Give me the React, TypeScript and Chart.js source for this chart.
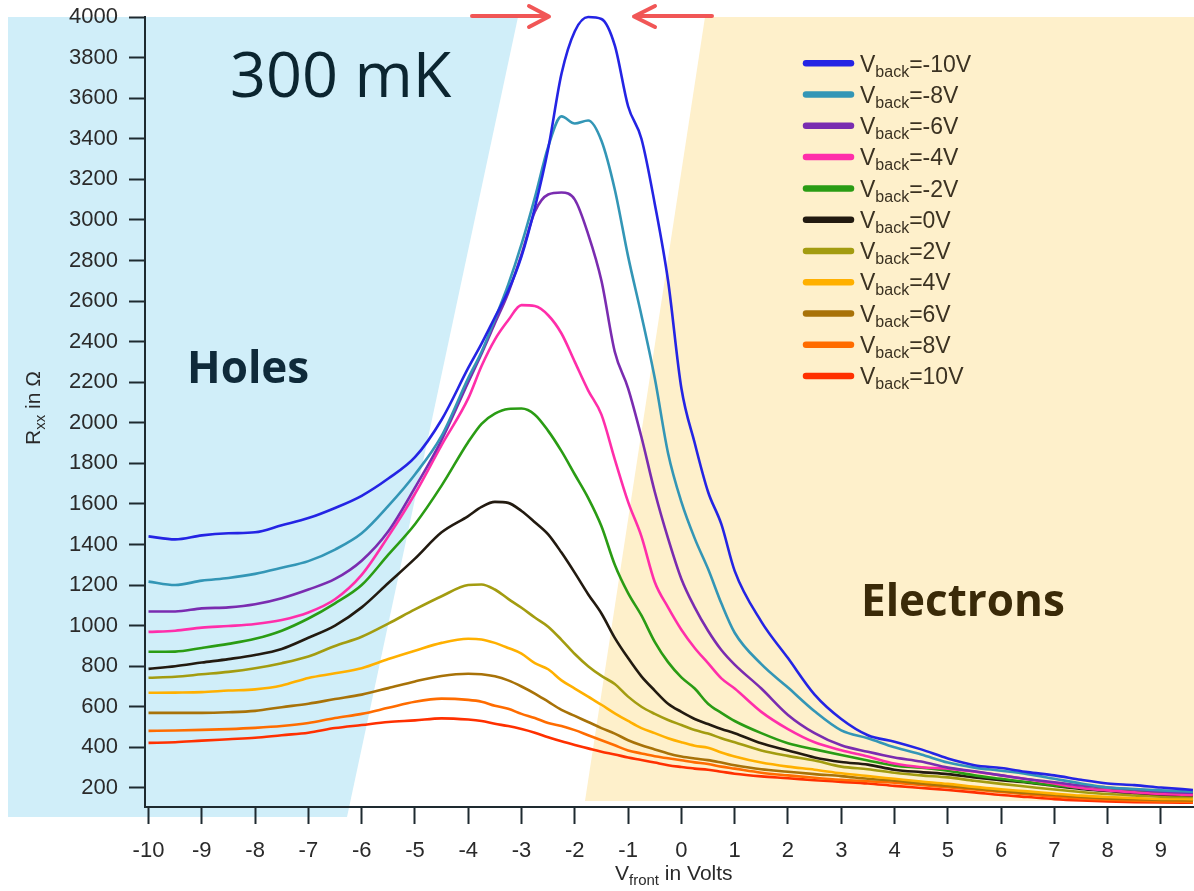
import React, { useEffect, useRef } from 'react';
import { Chart, registerables } from 'chart.js';

Chart.register(...registerables);

// Front-gate voltage grid (V)
const vFront = [
  -10, -9.5, -9, -8.5, -8, -7.5, -7, -6.5, -6, -5.5, -5, -4.5, -4,
  -3.75, -3.5, -3.25, -3, -2.75, -2.5, -2.25, -2, -1.75, -1.5, -1.25, -1, -0.75, -0.5, -0.25, 0, 0.25, 0.5, 0.75, 1,
  1.5, 2, 2.5, 3, 3.5, 4, 4.5, 5, 5.5, 6, 6.5, 7, 7.5, 8, 8.5, 9,
  9.6,
];

// R_xx (Ohm) for each back-gate voltage
const rxxBackM10 = [
  1440, 1425, 1445, 1455, 1460, 1495, 1530, 1580, 1640, 1725, 1830, 2015, 2270,
  2390, 2520, 2650, 2820, 3060, 3350, 3720, 3930, 4000, 3990, 3860, 3560, 3400, 3080, 2700, 2170, 1900, 1660, 1500, 1270,
  1020, 840, 660, 540, 460, 428, 390, 345, 312, 298, 278, 262, 240, 222, 214, 202,
  190,
];
const rxxBackM8 = [
  1217, 1200, 1222, 1235, 1255, 1285, 1318, 1375, 1455, 1590, 1745, 1935, 2220,
  2350, 2510, 2680, 2880, 3110, 3360, 3510, 3475, 3490, 3390, 3150, 2820, 2530, 2220, 1850, 1610, 1430, 1280, 1110, 965,
  810, 695, 578, 484, 445, 400, 365, 325, 300, 285, 268, 245, 222, 202, 195, 188,
  181,
];
const rxxBackM6 = [
  1070, 1070, 1085, 1090, 1105, 1135, 1178, 1230, 1320, 1465, 1680, 1915, 2200,
  2340, 2490, 2640, 2830, 3040, 3125, 3135, 3100, 2930, 2700, 2350, 2170, 1930, 1660, 1430, 1230, 1090, 975, 880, 808,
  690, 560, 470, 410, 378, 350, 330, 300, 282, 262, 243, 228, 212, 202, 192, 183,
  176,
];
const rxxBackM4 = [
  969, 975, 990, 998, 1008, 1028, 1065, 1130, 1250, 1440, 1650, 1890, 2120,
  2280, 2410, 2505, 2580, 2575, 2530, 2440, 2300, 2160, 2040, 1820, 1610, 1440, 1215, 1090, 980, 890, 815, 740, 690,
  575, 490, 425, 386, 355, 320, 302, 295, 280, 262, 243, 222, 200, 188, 178, 170,
  166,
];
const rxxBackM2 = [
  871, 872, 890, 910, 935, 975, 1035, 1110, 1200, 1350, 1500, 1690, 1905,
  1995, 2045, 2068, 2070, 2040, 1960, 1860, 1745, 1630, 1490, 1300, 1160, 1050, 920, 820, 745, 690, 615, 570, 530,
  470, 420, 390, 362, 335, 310, 300, 285, 262, 245, 228, 212, 200, 190, 182, 175,
  171,
];
const rxxBack0 = [
  787, 800, 818, 835, 855, 885, 940, 1000, 1090, 1210, 1330, 1460, 1540,
  1585, 1610, 1605, 1565, 1510, 1450, 1360, 1260, 1155, 1060, 940, 840, 750, 680, 615, 575, 540, 515, 490, 470,
  420, 385, 350, 328, 315, 290, 278, 268, 252, 238, 226, 210, 195, 185, 175, 168,
  164,
];
const rxxBackP2 = [
  743, 748, 760, 772, 790, 815, 848, 900, 945, 1010, 1080, 1145, 1200,
  1203, 1178, 1132, 1088, 1040, 995, 930, 860, 800, 752, 712, 650, 600, 565, 535, 510, 485, 468, 445, 425,
  385, 358, 335, 305, 292, 275, 262, 252, 235, 220, 206, 192, 180, 170, 163, 157,
  155,
];
const rxxBackP4 = [
  669, 670, 672, 680, 686, 705, 742, 765, 790, 835, 876, 915, 935,
  932, 915, 890, 862, 815, 785, 730, 690, 650, 610, 568, 530, 495, 470, 445, 425, 408, 398, 375, 355,
  325, 305, 290, 272, 258, 245, 232, 220, 205, 193, 183, 172, 162, 155, 150, 146,
  145,
];
const rxxBackP6 = [
  570, 570, 570, 573, 580, 598, 615, 638, 660, 692, 725, 752, 763,
  760, 750, 730, 700, 665, 625, 585, 555, 525, 495, 468, 435, 410, 390, 370, 355, 345, 337, 325, 312,
  292, 280, 268, 258, 245, 235, 222, 210, 198, 185, 175, 165, 155, 148, 144, 141,
  138,
];
const rxxBackP8 = [
  481, 483, 486, 490, 496, 505, 520, 545, 565, 595, 625, 640, 634,
  625, 605, 590, 565, 545, 520, 505, 485, 460, 435, 410, 385, 370, 356, 346, 336, 326, 318, 305, 295,
  275, 262, 250, 240, 233, 226, 215, 203, 192, 180, 168, 157, 148, 142, 137, 133,
  131,
];
const rxxBackP10 = [
  422, 425, 433, 440, 447, 460, 472, 495, 510, 525, 533, 543, 537,
  530, 516, 505, 490, 472, 450, 430, 412, 395, 378, 365, 350, 338, 325, 312, 303, 295, 290, 280, 270,
  257, 248, 238, 230, 222, 210, 200, 190, 178, 165, 155, 145, 138, 133, 130, 128,
  127,
];

const backVoltages = [-10, -8, -6, -4, -2, 0, 2, 4, 6, 8, 10];
const seriesColors = [
  '#2424e4', '#3396b6', '#7a2cb0', '#ff2eaa', '#2a9c14', '#221a10',
  '#a39c10', '#ffb000', '#a87208', '#ff6c00', '#ff3000',
];

const xTickValues = [-10, -9, -8, -7, -6, -5, -4, -3, -2, -1, 0, 1, 2, 3, 4, 5, 6, 7, 8, 9];
const yTickValues = [200, 400, 600, 800, 1000, 1200, 1400, 1600, 1800, 2000, 2200, 2400, 2600, 2800, 3000, 3200, 3400, 3600, 3800, 4000];

const W = 1194;
const H = 891;
const SANS = "'Liberation Sans', Arial, Helvetica, sans-serif";

type Part = { t: string; size: number; dy: number };

function drawRich(ctx: CanvasRenderingContext2D, parts: Part[], x: number, y: number) {
  let cx = x;
  for (const p of parts) {
    ctx.font = `${p.size}px ${SANS}`;
    ctx.fillText(p.t, cx, y + p.dy);
    cx += ctx.measureText(p.t).width;
  }
}

function richWidth(ctx: CanvasRenderingContext2D, parts: Part[]) {
  let w = 0;
  for (const p of parts) {
    ctx.font = `${p.size}px ${SANS}`;
    w += ctx.measureText(p.t).width;
  }
  return w;
}

export default function App() {
  const ref = useRef<HTMLCanvasElement>(null);

  useEffect(() => {
    const canvas = ref.current;
    if (!canvas) return;
    const series = [
      rxxBackM10, rxxBackM8, rxxBackM6, rxxBackM4, rxxBackM2, rxxBack0,
      rxxBackP2, rxxBackP4, rxxBackP6, rxxBackP8, rxxBackP10,
    ];
    const datasets = series.map((vals, i) => ({
      label: `Vback=${backVoltages[i]}V`,
      data: vFront.map((x, j) => ({ x, y: vals[j] })),
      borderColor: seriesColors[i],
      backgroundColor: seriesColors[i],
      borderWidth: 2.6,
      pointRadius: 0,
      cubicInterpolationMode: 'monotone' as const,
      fill: false,
      clip: 3,
    }));

    const decor = {
      id: 'decor',
      beforeDraw(chart: any) {
        const c: CanvasRenderingContext2D = chart.ctx;
        c.save();
        c.fillStyle = '#ffffff';
        c.fillRect(0, 0, W, H);
        c.fillStyle = '#d0eef9';
        c.beginPath();
        c.moveTo(8, 17); c.lineTo(518, 17); c.lineTo(347, 817); c.lineTo(8, 817);
        c.closePath(); c.fill();
        c.fillStyle = '#fef0cb';
        c.beginPath();
        c.moveTo(705, 17); c.lineTo(W, 17); c.lineTo(W, 801); c.lineTo(585, 801);
        c.closePath(); c.fill();
        c.restore();
      },
      afterDraw(chart: any) {
        const c: CanvasRenderingContext2D = chart.ctx;
        c.save();
        c.textBaseline = 'alphabetic';
        c.textAlign = 'left';
        // big annotations
        c.fillStyle = '#0b2530';
        c.font = "63px 'Open Sans', sans-serif";
        c.fillText('300 mK', 230, 97);
        c.fillStyle = '#0f2a3a';
        c.font = "bold 44px 'Open Sans', sans-serif";
        c.fillText('Holes', 187, 383);
        c.fillStyle = '#3a2a08';
        c.fillText('Electrons', 861, 616);

        // arrows
        c.strokeStyle = 'rgba(240,72,72,0.92)';
        c.lineWidth = 4;
        c.lineCap = 'round';
        c.lineJoin = 'round';
        c.beginPath();
        c.moveTo(472, 16); c.lineTo(548, 16);
        c.moveTo(529, 6); c.lineTo(549, 16.5); c.lineTo(529, 27);
        c.moveTo(712, 16); c.lineTo(635, 16);
        c.moveTo(655, 6); c.lineTo(634, 16.5); c.lineTo(655, 27);
        c.stroke();

        // legend
        const y0 = 63.3;
        const dy = 31.27;
        backVoltages.forEach((v, i) => {
          const y = y0 + i * dy;
          c.strokeStyle = seriesColors[i];
          c.lineWidth = 6.5;
          c.lineCap = 'round';
          c.beginPath();
          c.moveTo(806, y); c.lineTo(851, y);
          c.stroke();
          c.fillStyle = '#3b3222';
          drawRich(c, [
            { t: 'V', size: 23, dy: 0 },
            { t: 'back', size: 16, dy: 5 },
            { t: `=${v}V`, size: 23, dy: 0 },
          ], 860, y + 8.3);
        });

        // axis titles
        c.fillStyle = '#2a2a2a';
        drawRich(c, [
          { t: 'V', size: 21, dy: 0 },
          { t: 'front', size: 15, dy: 5 },
          { t: ' in Volts', size: 21, dy: 0 },
        ], 615, 880);

        const yParts: Part[] = [
          { t: 'R', size: 21, dy: 0 },
          { t: 'xx', size: 15, dy: 5 },
          { t: ' in Ω', size: 21, dy: 0 },
        ];
        const yw = richWidth(c, yParts);
        c.translate(40, 408);
        c.rotate(-Math.PI / 2);
        drawRich(c, yParts, -yw / 2, 0);
        c.restore();
      },
    };

    const axisColor = '#1e2a30';
    const chart = new Chart(canvas, {
      type: 'line',
      data: { datasets: datasets as any },
      options: {
        animation: false,
        responsive: false,
        devicePixelRatio: 1,
        layout: { padding: { top: 17, left: 0, right: 0, bottom: 0 } },
        plugins: { legend: { display: false }, tooltip: { enabled: false } },
        scales: {
          x: {
            type: 'linear',
            min: -10.066,
            max: 9.62,
            afterBuildTicks: (s: any) => { s.ticks = xTickValues.map((v) => ({ value: v })); },
            afterFit: (s: any) => {
              s.height = H - 807;
              s.paddingLeft = 0; s.paddingRight = 0; s.paddingTop = 0; s.paddingBottom = 0;
            },
            grid: { drawOnChartArea: false, drawTicks: true, tickLength: 17, tickWidth: 2, tickColor: axisColor },
            border: { display: true, color: axisColor, width: 2 },
            ticks: {
              font: { family: SANS, size: 22 },
              color: '#2a2a2a',
              padding: 14,
              maxRotation: 0,
              autoSkip: false,
              callback: (v: any) => String(v),
            },
          },
          y: {
            type: 'linear',
            min: 106,
            max: 4000,
            afterBuildTicks: (s: any) => { s.ticks = yTickValues.map((v) => ({ value: v })); },
            afterFit: (s: any) => {
              s.width = 145;
              s.paddingLeft = 0; s.paddingRight = 0; s.paddingTop = 0; s.paddingBottom = 0;
            },
            grid: { drawOnChartArea: false, drawTicks: true, tickLength: 16, tickWidth: 2, tickColor: axisColor },
            border: { display: true, color: axisColor, width: 2 },
            ticks: {
              font: { family: SANS, size: 22 },
              color: '#2a2a2a',
              padding: 11,
              autoSkip: false,
              callback: (v: any) => String(v),
            },
          },
        },
      },
      plugins: [decor],
    });
    return () => chart.destroy();
  }, []);

  return (
    <div style={{ position: 'absolute', left: 0, top: 0, width: W, height: H, background: '#fff' }}>
      <canvas ref={ref} width={W} height={H} style={{ display: 'block', width: W, height: H }} />
    </div>
  );
}
